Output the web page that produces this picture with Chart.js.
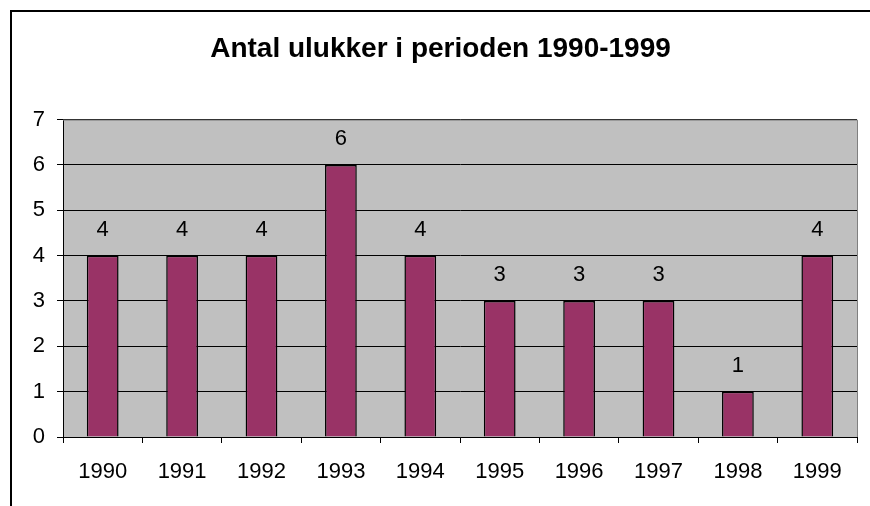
<!DOCTYPE html>
<html>
<head>
<meta charset="utf-8">
<script src="https://cdn.jsdelivr.net/npm/chart.js@4"></script>
<style>
  html, body { margin: 0; padding: 0; background: #ffffff; }
  #wrap { width: 870px; height: 506px; position: relative; }
</style>
</head>
<body>
<div id="wrap"><canvas id="chart" width="870" height="506"></canvas></div>
<script>
/* bar chart: accidents per year */

const years = ["1990", "1991", "1992", "1993", "1994", "1995", "1996", "1997", "1998", "1999"];

const accidents = [4, 4, 4, 6, 4, 3, 3, 3, 1, 4];

const yTicks = [0, 1, 2, 3, 4, 5, 6, 7];

const chartTitle = "Antal ulukker i perioden 1990-1999";

const FONT = "'Liberation Sans', Arial, sans-serif";

// white page, outer frame, grey plot area
const framePlugin = {
    id: "frame",
    beforeDraw(chart) {
        const ctx = chart.ctx;
        const a = chart.chartArea;
        ctx.save();
        ctx.fillStyle = "#ffffff";
        ctx.fillRect(0, 0, chart.width, chart.height);
        ctx.strokeStyle = "#000000";
        ctx.lineWidth = 2;
        ctx.strokeRect(11, 11, chart.width + 20, chart.height + 20);
        ctx.fillStyle = "#c0c0c0";
        ctx.fillRect(a.left, a.top, a.right - a.left, a.bottom - a.top);
        ctx.restore();
    },
    afterDatasetsDraw(chart) {
        const ctx = chart.ctx;
        const a = chart.chartArea;
        ctx.save();
        ctx.strokeStyle = "#808080";
        ctx.lineWidth = 1;
        ctx.beginPath();
        ctx.moveTo(a.left, a.top + 0.5);
        ctx.lineTo(a.right + 0.5, a.top + 0.5);
        ctx.lineTo(a.right + 0.5, a.bottom);
        ctx.stroke();
        ctx.restore();
    }
};

// value labels above the bars
const valueLabels = {
    id: "valueLabels",
    afterDatasetsDraw(chart) {
        const ctx = chart.ctx;
        const meta = chart.getDatasetMeta(0);
        ctx.save();
        ctx.font = "22px " + FONT;
        ctx.fillStyle = "#000000";
        ctx.textAlign = "center";
        ctx.textBaseline = "middle";
        meta.data.forEach((bar, i) => {
            ctx.fillText(String(accidents[i]), bar.x, bar.y - 26);
        });
        ctx.restore();
    }
};

new Chart(document.getElementById("chart"), {
    type: "bar",
    data: {
        labels: years,
        datasets: [
            {
                data: accidents,
                backgroundColor: "#993366",
                borderColor: "#000000",
                borderWidth: 1.5,
                categoryPercentage: 1,
                barPercentage: 0.4
            }
        ]
    },
    options: {
        responsive: false,
        animation: false,
        layout: {
            padding: { left: 24, right: 13, top: 0, bottom: 0 }
        },
        plugins: {
            legend: { display: false },
            tooltip: { enabled: false },
            title: {
                display: true,
                text: chartTitle,
                color: "#000000",
                font: { family: FONT, size: 28, weight: "bold" },
                padding: { top: 32, bottom: 54 }
            }
        },
        scales: {
            x: {
                grid: {
                    offset: true,
                    drawOnChartArea: false,
                    drawTicks: true,
                    tickLength: 6,
                    color: "#000000"
                },
                border: { color: "#000000", width: 1 },
                ticks: {
                    color: "#000000",
                    padding: 16,
                    maxRotation: 0,
                    font: { family: FONT, size: 22 }
                },
                afterFit(scale) {
                    scale.height = 69;
                }
            },
            y: {
                min: 0,
                max: 7,
                afterBuildTicks(scale) {
                    scale.ticks = yTicks.map(v => ({ value: v }));
                },
                grid: {
                    drawTicks: true,
                    tickLength: 6,
                    color: "#000000"
                },
                border: { color: "#000000", width: 1 },
                ticks: {
                    color: "#000000",
                    padding: 12,
                    font: { family: FONT, size: 22 }
                },
                afterFit(scale) {
                    scale.width = 39;
                }
            }
        }
    },
    plugins: [framePlugin, valueLabels]
});
</script>
</body>
</html>
